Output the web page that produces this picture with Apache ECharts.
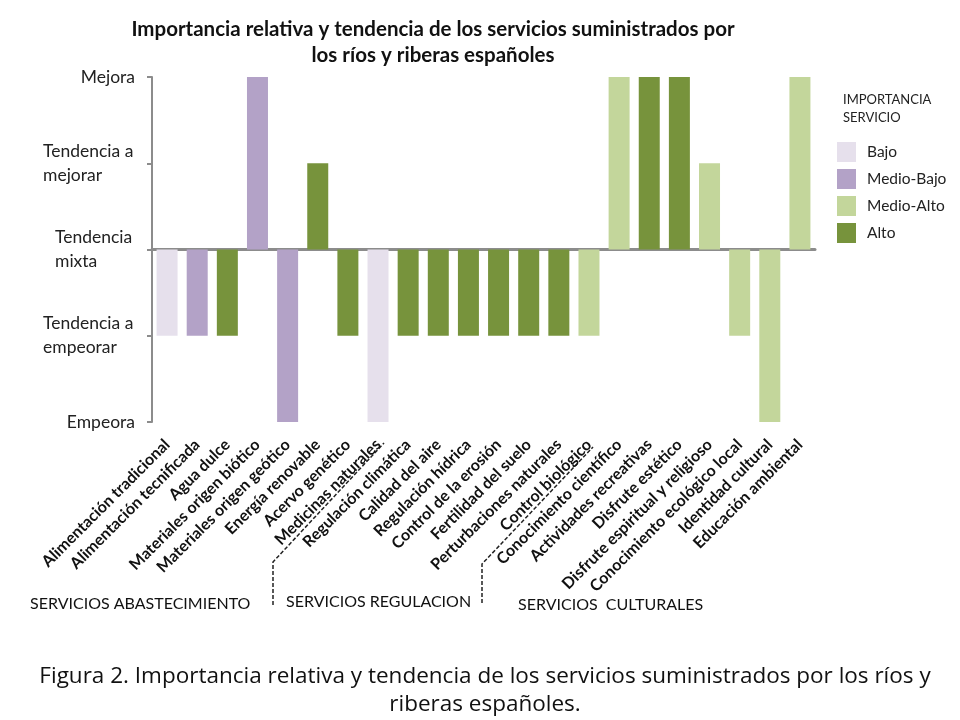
<!DOCTYPE html>
<html>
<head>
<meta charset="utf-8">
<script src="https://cdn.jsdelivr.net/npm/echarts@6/dist/echarts.min.js"></script>
<style>
  html, body { margin: 0; padding: 0; background: #fff; }
  #content { width: 960px; height: 720px; }
</style>
</head>
<body>
<div id="content"></div>
<script>
// servicios (eje X)
var categories = [
    'Alimentación tradicional', 'Alimentación tecnificada', 'Agua dulce',
    'Materiales origen biótico', 'Materiales origen geótico', 'Energía renovable',
    'Acervo genético', 'Medicinas naturales', 'Regulación climática',
    'Calidad del aire', 'Regulación hídrica', 'Control de la erosión',
    'Fertilidad del suelo', 'Perturbaciones naturales', 'Control biológico',
    'Conocimiento científico', 'Actividades recreativas', 'Disfrute estético',
    'Disfrute espiritual y religioso', 'Conocimiento ecológico local',
    'Identidad cultural', 'Educación ambiental'
];
// tendencia: -2 empeora ... 2 mejora
var tendencia = [-1, -1, -1, 2, -2, 1, -1, -2, -1, -1, -1, -1, -1, -1, -1, 2, 2, 2, 1, -1, -2, 2];
// importancia de cada servicio
var importancia = [
    'Bajo', 'Medio-Bajo', 'Alto', 'Medio-Bajo', 'Medio-Bajo', 'Alto',
    'Alto', 'Bajo', 'Alto', 'Alto', 'Alto', 'Alto', 'Alto', 'Alto',
    'Medio-Alto', 'Medio-Alto', 'Alto', 'Alto', 'Medio-Alto', 'Medio-Alto',
    'Medio-Alto', 'Medio-Alto'
];
var niveles = ['Bajo', 'Medio-Bajo', 'Medio-Alto', 'Alto'];
var colores = ['#e6e0ec', '#b3a2c7', '#c3d69b', '#77933c'];
// etiquetas del eje Y (de -2 a 2)
var yLabels = ['Empeora', 'Tendencia a\nempeorar', 'Tendencia\nmixta', 'Tendencia a\nmejorar', 'Mejora'];

var FONT = 'Lato';
var myChart = echarts.init(document.getElementById('content'));

var series = niveles.map(function (nivel, i) {
    return {
        name: nivel,
        type: 'bar',
        stack: 'imp',
        barWidth: 21,
        itemStyle: {color: colores[i]},
        data: tendencia.map(function (v, k) {
            return importancia[k] === nivel ? v : '-';
        })
    };
});

var dash = {stroke: '#222', lineWidth: 1.5, lineDash: [4, 2], fill: null};

option = {
    textStyle: {fontFamily: FONT},
    title: [
        {
            text: 'Importancia relativa y tendencia de los servicios suministrados por\nlos ríos y riberas españoles',
            left: 428,
            top: 11,
            textAlign: 'center',
            textStyle: {fontFamily: FONT, fontSize: 20.5, fontWeight: 'bold', color: '#111', lineHeight: 26}
        },
        {
            text: 'Figura 2. Importancia relativa y tendencia de los servicios suministrados por los ríos y\nriberas españoles.',
            left: 480,
            top: 658,
            textAlign: 'center',
            textStyle: {fontFamily: 'Open Sans', fontSize: 22.5, fontWeight: 'normal', color: '#111', lineHeight: 28}
        },
        {
            text: 'IMPORTANCIA\nSERVICIO',
            left: 838,
            top: 86,
            textStyle: {fontFamily: FONT, fontSize: 13, fontWeight: 'normal', color: '#222', lineHeight: 18}
        }
    ],
    legend: {
        orient: 'vertical',
        left: 832,
        top: 137,
        itemWidth: 19,
        itemHeight: 20,
        itemGap: 7,
        icon: 'rect',
        data: niveles,
        textStyle: {fontFamily: FONT, fontSize: 15.5, color: '#222', padding: [0, 0, 0, 6]}
    },
    grid: {left: 152, right: 145, top: 77, bottom: 298},
    xAxis: [
        {
            type: 'category',
            data: categories,
            axisLine: {onZero: true, lineStyle: {color: '#8c8c8c', width: 3}},
            axisTick: {show: false},
            axisLabel: {show: false}
        },
        {
            type: 'category',
            data: categories,
            position: 'bottom',
            axisLine: {show: false, onZero: false},
            axisTick: {show: false},
            axisLabel: {
                interval: 0,
                rotate: 45,
                margin: 20,
                fontFamily: FONT,
                fontSize: 16,
                fontWeight: 'bold',
                color: '#111'
            }
        }
    ],
    yAxis: {
        type: 'value',
        min: -2,
        max: 2,
        interval: 1,
        splitLine: {show: false},
        axisLine: {show: true, lineStyle: {color: '#8c8c8c', width: 2}},
        axisTick: {show: true, length: 5, lineStyle: {color: '#8c8c8c', width: 2}},
        axisLabel: {
            margin: 17,
            fontFamily: FONT,
            fontSize: 17.5,
            color: '#222',
            lineHeight: 24,
            formatter: function (v) {
                var parts = yLabels[v + 2].split('\n');
                if (parts.length === 1) {
                    return parts[0];
                }
                var st = parts[0].slice(-2) === ' a' ? 'a' : 'b';
                return '{' + st + '|' + parts[0] + '}\n{' + st + '|' + parts[1] + '}';
            },
            rich: {
                a: {width: 92, align: 'left', fontSize: 17.5, lineHeight: 24, fontFamily: FONT, color: '#222'},
                b: {width: 80, align: 'left', fontSize: 17.5, lineHeight: 24, fontFamily: FONT, color: '#222'}
            }
        }
    },
    graphic: [
        {type: 'polyline', shape: {points: [[273, 605], [273, 562], [384, 443]]}, style: dash, silent: true},
        {type: 'polyline', shape: {points: [[482, 603], [482, 564], [593, 447]]}, style: dash, silent: true},
        {type: 'text', left: 30, top: 596, style: {text: 'SERVICIOS ABASTECIMIENTO', font: '16px ' + FONT, fill: '#111'}},
        {type: 'text', left: 286, top: 594, style: {text: 'SERVICIOS REGULACION', font: '16px ' + FONT, fill: '#111'}},
        {type: 'text', left: 518, top: 597, style: {text: 'SERVICIOS  CULTURALES', font: '16px ' + FONT, fill: '#111'}}
    ],
    series: series
};
myChart.setOption(option);
</script>
</body>
</html>
